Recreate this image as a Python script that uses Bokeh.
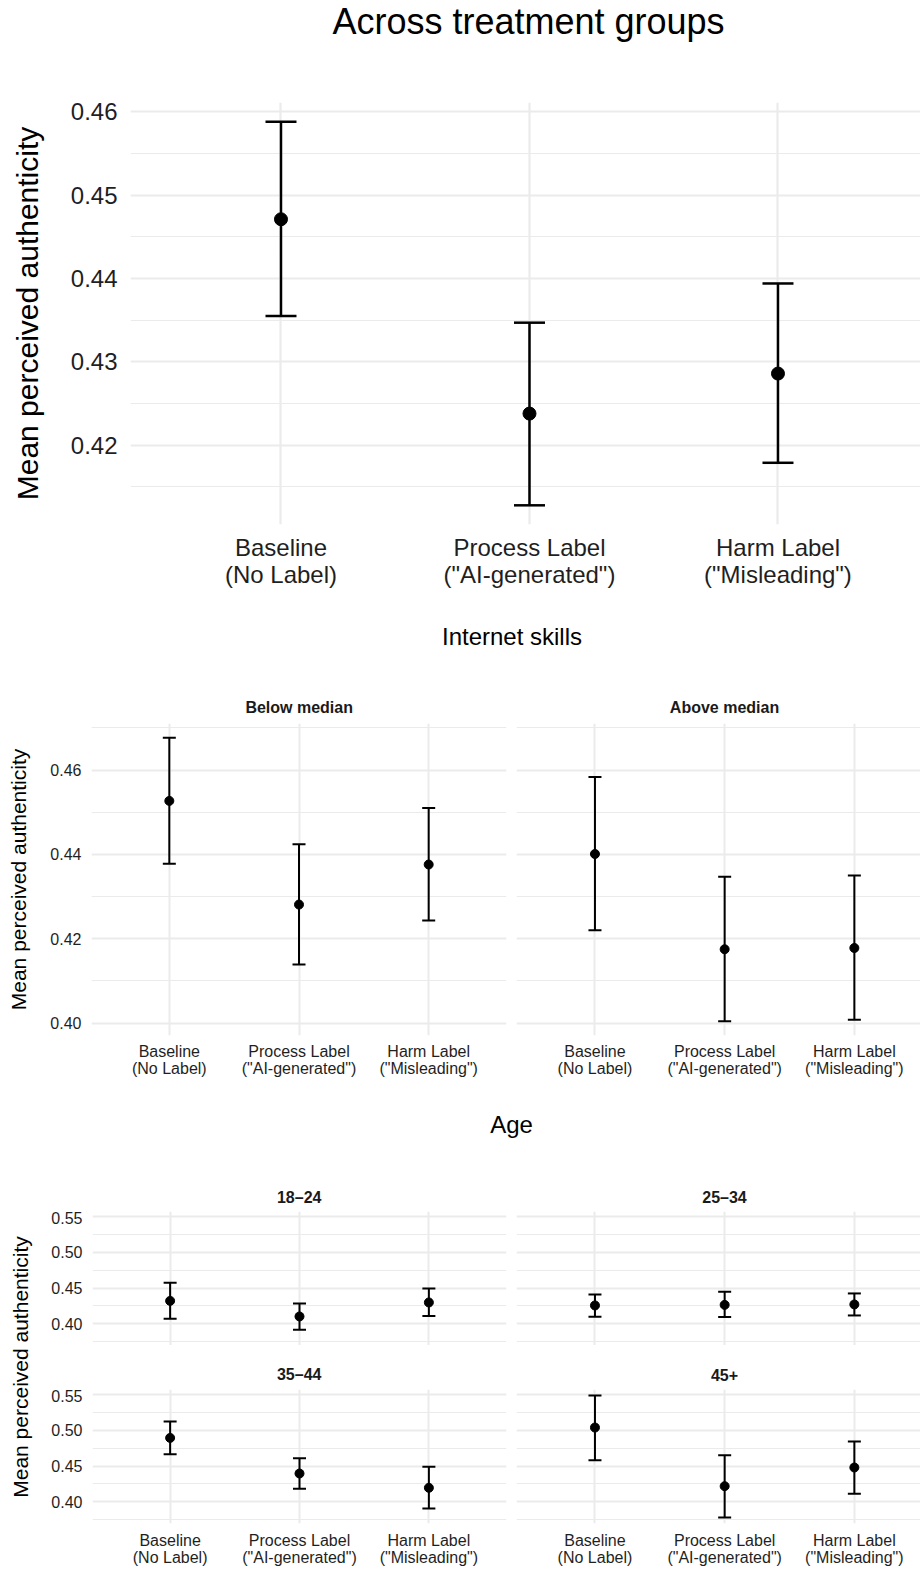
import math
from bokeh.plotting import figure
from bokeh.models import ColumnDataSource, Range1d, FixedTicker, Whisker, TeeHead, PrintfTickFormatter
from bokeh.layouts import column, row
from bokeh.embed import file_html
from bokeh.resources import INLINE
from bokeh.core.properties import value

FONT = "Liberation Sans"
GRID = "#EBEBEB"
TICK_TXT = "#1F1F1F"
STRIP_TXT = "#1A1A1A"

# ---------------- data ----------------
treatments = ['Baseline\n(No Label)', 'Process Label\n("AI-generated")', 'Harm Label\n("Misleading")']

overall_mean = [0.4471, 0.4238, 0.4286]
overall_lower = [0.4355, 0.4128, 0.4179]
overall_upper = [0.4588, 0.4347, 0.4394]

skills_groups = ['Below median', 'Above median']
below_mean = [0.4527, 0.4281, 0.4376]
below_lower = [0.4378, 0.4139, 0.4243]
below_upper = [0.4677, 0.4424, 0.4510]
above_mean = [0.4401, 0.4175, 0.4178]
above_lower = [0.4220, 0.4004, 0.4008]
above_upper = [0.4584, 0.4347, 0.4350]

age_groups = ['18\u201324', '25\u201334', '35\u201344', '45+']
age18_mean = [0.4321, 0.4103, 0.4299]
age18_lower = [0.4070, 0.3916, 0.4108]
age18_upper = [0.4573, 0.4285, 0.4494]
age25_mean = [0.4257, 0.4265, 0.4271]
age25_lower = [0.4098, 0.4094, 0.4117]
age25_upper = [0.4411, 0.4447, 0.4425]
age35_mean = [0.4894, 0.4396, 0.4196]
age35_lower = [0.4666, 0.4182, 0.3908]
age35_upper = [0.5123, 0.4610, 0.4489]
age45_mean = [0.5039, 0.4219, 0.4480]
age45_lower = [0.4582, 0.3782, 0.4112]
age45_upper = [0.5486, 0.4652, 0.4844]

top_ticks = [0.42, 0.43, 0.44, 0.45, 0.46]
top_minor = [0.415, 0.425, 0.435, 0.445, 0.455]
mid_ticks = [0.40, 0.42, 0.44, 0.46]
mid_minor = [0.41, 0.43, 0.45, 0.47]
bot_ticks = [0.40, 0.45, 0.50, 0.55]
bot_minor = [0.375, 0.425, 0.475, 0.525]

YLABEL = "Mean perceived authenticity"
XPOS = list(range(1, len(treatments) + 1))


def expand(lows, highs, mult=0.05):
    lo, hi = min(lows), max(highs)
    d = hi - lo
    return lo - mult * d, hi + mult * d


def panel(width, height, mbl, mbr, mbt, mbb, xr, yr, yt, ym, means, lows, highs,
          show_x, show_y, tick_size, label_size=None, y_standoff=10, x_standoff=8,
          label_standoff=18, pt_size=9, lw=2.0, cap=13, grid_major=2.0, grid_minor=1.0,
          line_height=1.0):
    p = figure(width=width, height=height, x_range=Range1d(*xr), y_range=Range1d(*yr),
               toolbar_location=None, output_backend="svg",
               min_border_left=mbl, min_border_right=mbr, min_border_top=mbt, min_border_bottom=mbb)
    p.outline_line_color = None
    p.background_fill_color = "white"
    p.border_fill_color = "white"
    xt = FixedTicker(ticks=XPOS, minor_ticks=[])
    ytk = FixedTicker(ticks=yt, minor_ticks=ym)
    p.xaxis.ticker = xt
    p.yaxis.ticker = ytk
    p.xgrid.ticker = xt
    p.ygrid.ticker = ytk
    p.xgrid.grid_line_color = GRID
    p.xgrid.grid_line_width = grid_major
    p.ygrid.grid_line_color = GRID
    p.ygrid.grid_line_width = grid_major
    p.ygrid.minor_grid_line_color = GRID
    p.ygrid.minor_grid_line_width = grid_minor
    for ax in (p.xaxis, p.yaxis):
        ax.axis_line_color = None
        ax.major_tick_line_color = None
        ax.minor_tick_line_color = None
        ax.major_tick_out = 0
        ax.major_tick_in = 0
        ax.minor_tick_out = 0
        ax.minor_tick_in = 0
        ax.major_label_text_font = FONT
        ax.major_label_text_font_size = f"{tick_size}px"
        ax.major_label_text_color = TICK_TXT
    p.xaxis.major_label_overrides = {x: t for x, t in zip(XPOS, treatments)}
    p.xaxis.major_label_standoff = x_standoff
    p.xaxis.major_label_text_line_height = line_height
    p.yaxis.formatter = PrintfTickFormatter(format="%.2f")
    p.yaxis.major_label_standoff = y_standoff
    if label_size:
        p.yaxis.axis_label = YLABEL
        p.yaxis.axis_label_text_font = FONT
        p.yaxis.axis_label_text_font_size = f"{label_size}px"
        p.yaxis.axis_label_text_font_style = "normal"
        p.yaxis.axis_label_text_color = "black"
        p.yaxis.axis_label_standoff = label_standoff
    if not show_x:
        p.xaxis.visible = False
    if not show_y:
        p.yaxis.visible = False

    src = ColumnDataSource(dict(x=XPOS, mean=means, lower=lows, upper=highs))
    w = Whisker(base="x", lower="lower", upper="upper", source=src, dimension="height",
                line_color="black", line_width=lw,
                upper_head=TeeHead(size=cap, line_color="black", line_width=lw),
                lower_head=TeeHead(size=cap, line_color="black", line_width=lw))
    p.add_layout(w)
    p.scatter(x="x", y="mean", source=src, size=pt_size, color="black")
    return p


def text_fig(w, h, items):
    p = figure(width=w, height=h, x_range=Range1d(0, w), y_range=Range1d(0, h),
               toolbar_location=None, output_backend="svg",
               x_axis_location=None, y_axis_location=None, min_border=0)
    p.outline_line_color = None
    p.grid.visible = False
    for (x, y, t, size, style, color, angle, baseline) in items:
        p.text(x=[x], y=[y], text=[t], angle=angle, text_font=value(FONT),
               text_font_size=f"{size}px", text_font_style=style, text_color=color,
               text_align="center", text_baseline=baseline)
    return row(p)


W = 920

# ---------------- top section ----------------
T1 = text_fig(W, 60, [(528, 39, "Across treatment groups", 36, "normal", "black", 0, "alphabetic")])

top_yr = expand(overall_lower, overall_upper)
A = panel(W, 540, 130, 0, 42, 76, (0.3944, 3.5735), top_yr, top_ticks, top_minor,
          overall_mean, overall_lower, overall_upper, True, True, 24, label_size=30,
          y_standoff=13, x_standoff=9, label_standoff=24, pt_size=13, lw=2.5, cap=31,
          grid_major=2.2, grid_minor=1.1)

# ---------------- internet skills ----------------
T2 = text_fig(W, 123, [
    (511.5, 87, "Internet skills", 24, "normal", "black", 0, "alphabetic"),
    (298.7, 15.8, skills_groups[0], 16, "bold", STRIP_TXT, 0, "alphabetic"),
    (724, 15.8, skills_groups[1], 16, "bold", STRIP_TXT, 0, "alphabetic"),
])
mid_yr = expand(below_lower + above_lower, below_upper + above_upper)
ML = panel(516, 377, 91, 10, 0, 65, (0.4, 3.6), mid_yr, mid_ticks, mid_minor,
           below_mean, below_lower, below_upper, True, True, 16, label_size=21,
           y_standoff=10, x_standoff=7, label_standoff=17)
MR = panel(404, 377, 0, 0, 0, 65, (0.395, 3.51), mid_yr, mid_ticks, mid_minor,
           above_mean, above_lower, above_upper, True, False, 16, x_standoff=7)

# ---------------- age ----------------
T3 = text_fig(W, 68, [(511, 44, "Age", 24, "normal", "black", 0, "alphabetic")])
T3s = text_fig(872, 43, [
    (250.7, 13.6, age_groups[0], 16, "bold", STRIP_TXT, 0, "alphabetic"),
    (676, 13.6, age_groups[1], 16, "bold", STRIP_TXT, 0, "alphabetic"),
])
T4 = text_fig(872, 44, [
    (250.7, 15, age_groups[2], 16, "bold", STRIP_TXT, 0, "alphabetic"),
    (676, 15, age_groups[3], 16, "bold", STRIP_TXT, 0, "alphabetic"),
])
bot_yr = expand(age18_lower + age25_lower + age35_lower + age45_lower,
                age18_upper + age25_upper + age35_upper + age45_upper)
B1L = panel(468, 134, 43, 10, 0, 0, (0.4, 3.6), bot_yr, bot_ticks, bot_minor,
            age18_mean, age18_lower, age18_upper, False, True, 16, y_standoff=10)
B1R = panel(404, 134, 0, 0, 0, 0, (0.395, 3.51), bot_yr, bot_ticks, bot_minor,
            age25_mean, age25_lower, age25_upper, False, False, 16)
B2L = panel(468, 180, 43, 10, 0, 46, (0.4, 3.6), bot_yr, bot_ticks, bot_minor,
            age35_mean, age35_lower, age35_upper, True, True, 16, y_standoff=10, x_standoff=8)
B2R = panel(404, 180, 0, 0, 0, 46, (0.395, 3.51), bot_yr, bot_ticks, bot_minor,
            age45_mean, age45_lower, age45_upper, True, False, 16, x_standoff=8)
LBL = text_fig(48, 401, [(20, 202.5, YLABEL, 21, "normal", "black", math.pi / 2, "middle")])

bottom = row(LBL, column(T3s, row(B1L, B1R), T4, row(B2L, B2R)))
layout = column(T1, A, T2, row(ML, MR), T3, bottom)

open("out.html", "w").write(file_html(layout, INLINE))
